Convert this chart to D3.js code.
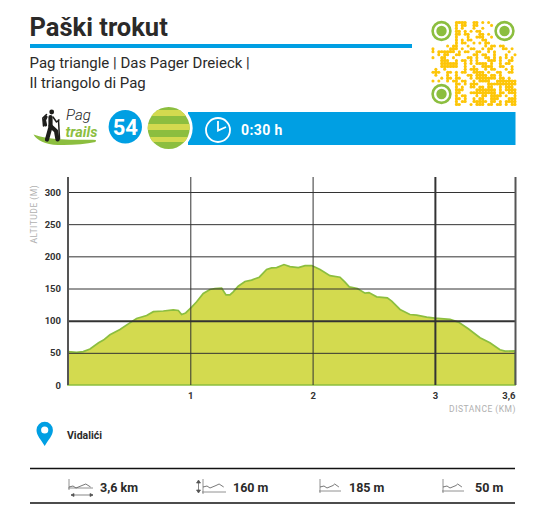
<!DOCTYPE html>
<html><head><meta charset="utf-8">
<script src="https://cdn.jsdelivr.net/npm/d3@7/dist/d3.min.js"></script>
<style>html,body{margin:0;padding:0;background:#fff}svg{display:block}text{font-family:Roboto,sans-serif}</style>
</head><body><svg id="c" width="547" height="529"></svg>
<script>
const distanceKm=[0,.07,.125,.18,.25,.29,.343,.425,.493,.561,.643,.698,.779,.861,.902,.929,.962,1.011,1.052,1.106,1.161,1.202,1.256,1.292,1.324,1.351,1.392,1.447,1.501,1.564,1.624,1.665,1.706,1.766,1.815,1.884,1.938,1.993,2.061,2.142,2.224,2.265,2.3,2.366,2.429,2.461,2.524,2.611,2.647,2.715,2.796,2.851,2.933,3.0,3.123,3.192,3.273,3.369,3.45,3.532,3.573,3.655];
const altitudeM=[52,50.7,52,56,65.6,69.8,78,86.3,95,103.4,108,114,115,116.8,115.8,109.6,112,121,129.3,142.2,148.4,150,150.6,140,140,144.8,153.6,160.9,163,167.6,179.5,182,182.5,187.2,184,182.5,185.6,185.6,179.4,170,167.5,159.8,152.5,150,142.7,143.7,137,135.5,130.3,117.4,109.6,108.6,105.5,104,101.9,97.7,87.4,73.4,65.7,54.8,52.7,53];
const yTicks=[0,50,100,150,200,250,300];
const xTicks=[1,2,3,3.655];
const xTickLabels=["1","2","3","3,6"];
const titleText="Paški trokut";
const subtitleLines=["Pag triangle | Das Pager Dreieck |","Il triangolo di Pag"];
const statLabels=["3,6 km","160 m","185 m","50 m"];
const qrRows=[
"........XXXX..XX.X.X.........",
"........X.XX..XX....X........",
"........X.X...X..X...........",
"........XX.X.X.XX............",
"........XX.XX...XX.X.........",
"........X...X..XXX..X........",
"........X.X.XX...XX..........",
"........X.XX..X.X.XX.........",
".....X.XX...X.....X.XX.XX....",
"X.....XXX.X..XX..X.XX...XX.X.",
"X.XXXXXX.X.XX..XX..X.X....X..",
"..X.XX..XX....XX.XX..X...X..X",
"X..XX..X....XX.X..XX.X.X.X.X.",
"...XXX..X.XX.X.X...XXX.X..XX.",
"...XXXXXX..X.X.XXXX.X..X.XX..",
"...XXXXXX..X..X..XXXX..XX..X.",
".X..X......X.XXX..X.XX...X.X.",
"XXX..XX.X.XX..XXXX.X..XX..XX.",
".X...X..X...XX.XXXX.XX.X.....",
"...X.XX.XX...X.XXXXXXX.XX.X..",
"X.X..X.XX.XX..X.XXXX..XXXXXXX",
"........XX.X.XXX...XXXXXXXXXX",
"........X.X..XX.XX.XX..X.XXX.",
"........XXX....XXXXXXX.X.XXXX",
"........XX...XXXXXXXXX.XX.XXX",
"........X.XX...X.XX.XXXX.X..X",
"........XX.X..X.XX..XXX...XXX",
"........X.XX..XXXXX.XX.X.XXXX",
"........XX...X.XXX.XX.XX.X.XX"];

const BLUE="#009fe3",GREEN="#8cbe3f",LIME="#d3da4f",INK="#2b2a29";
const svg=d3.select("#c");

// header
svg.append("text").attr("x",29.5).attr("y",36).attr("font-size",25.5).attr("font-weight",700).attr("fill",INK).text(titleText);
svg.append("rect").attr("x",30).attr("y",44).attr("width",382).attr("height",4).attr("fill",BLUE);
subtitleLines.forEach((t,i)=>svg.append("text").attr("x",29.5).attr("y",68+i*20).attr("font-size",15).attr("fill",INK).text(t));

// QR
const qr=svg.append("g").attr("transform","translate(431.5,21)"),m=2.93;
qrRows.forEach((row,r)=>[...row].forEach((c,k)=>{
  if(c!=="X")return;
  qr.append("circle").attr("cx",k*m+m/2).attr("cy",r*m+m/2).attr("r",m*.52).attr("fill","#fdc60a");
  if(row[k+1]==="X")qr.append("rect").attr("x",k*m+m/2).attr("y",r*m+m*.14).attr("width",m).attr("height",m*.72).attr("fill","#fdc60a");
  if(qrRows[r+1]&&qrRows[r+1][k]==="X")qr.append("rect").attr("x",k*m+m*.14).attr("y",r*m+m/2).attr("width",m*.72).attr("height",m).attr("fill","#fdc60a");
}));
[[441.5,31],[504.5,31],[441.5,94]].forEach(([cx,cy])=>{
  svg.append("circle").attr("cx",cx).attr("cy",cy).attr("r",8.9).attr("fill","none").attr("stroke",GREEN).attr("stroke-width",2.6);
  svg.append("circle").attr("cx",cx).attr("cy",cy).attr("r",5.2).attr("fill",GREEN);
});

// Pag trails logo
svg.append("path").attr("d","M33.500 134.500C42 137.500 52 139 66 139.500C78 140 88 139.500 96 140L95.500 142C85 144 72 145.500 58 145C45 144.500 37 140.500 33.500 134.500Z").attr("fill",GREEN);
const hk=svg.append("g").attr("fill","none").attr("stroke","#1d1d1b").attr("stroke-linecap","round").attr("stroke-linejoin","round");
svg.append("circle").attr("cx",51.700).attr("cy",112).attr("r",2.400).attr("fill","#1d1d1b");
hk.append("path").attr("d","M50.500 117L50.500 127L47 139.500").attr("stroke-width",4.200);
hk.append("path").attr("d","M50.500 126L56 131L57.500 139.500").attr("stroke-width",4.200);
hk.append("path").attr("d","M46 117L44.500 120L45.500 125").attr("stroke-width",3.200);
hk.append("path").attr("d","M43.500 126L42.800 118L46.500 114.500").attr("stroke-width",1.500);
hk.append("path").attr("d","M53 117L56.500 122L59 120M58.500 120L59.500 139").attr("stroke-width",1.500);
svg.append("text").attr("x",66).attr("y",120).attr("font-size",15).attr("font-style","italic").attr("font-weight",300).attr("fill","#222").text("Pag");
svg.append("text").attr("x",65.500).attr("y",136.500).attr("font-size",14.500).attr("font-style","italic").attr("font-weight",700).attr("fill",GREEN).text("trails");

// route band
svg.append("rect").attr("x",188).attr("y",112).attr("width",327.500).attr("height",33).attr("fill",BLUE);
svg.append("circle").attr("cx",125.300).attr("cy",126.700).attr("r",16.700).attr("fill",BLUE);
svg.append("text").attr("x",125.300).attr("y",134.500).attr("text-anchor","middle").attr("font-size",22).attr("font-weight",700).attr("fill","#fff").text("54");
svg.append("circle").attr("cx",168.700).attr("cy",128).attr("r",24).attr("fill","#fff");
const defs=svg.append("defs");
defs.append("clipPath").attr("id","disc").append("circle").attr("cx",168.700).attr("cy",128).attr("r",21);
const disc=svg.append("g").attr("clip-path","url(#disc)");
disc.append("rect").attr("x",147).attr("y",107).attr("width",44).attr("height",42).attr("fill",GREEN);
[[110,6],[124,6],[137,5]].forEach(([y,h])=>disc.append("rect").attr("x",147).attr("y",y).attr("width",44).attr("height",h).attr("fill",LIME));
svg.append("circle").attr("cx",218).attr("cy",130).attr("r",12).attr("fill","none").attr("stroke","#fff").attr("stroke-width",1.800);
svg.append("path").attr("d","M218 121V130.500L226 127").attr("fill","none").attr("stroke","#fff").attr("stroke-width",1.800);
svg.append("text").attr("x",241).attr("y",134.500).attr("font-size",14).attr("font-weight",700).attr("letter-spacing",.4).attr("fill","#fff").text("0:30 h");

// chart
const x=d3.scaleLinear().domain([0,3.655]).range([68,515]);
const y=d3.scaleLinear().domain([0,300]).range([385,192]);
const pts=distanceKm.map((d,i)=>[d,altitudeM[i]]);
const area=d3.area().x(d=>x(d[0])).y0(y(0)).y1(d=>y(d[1])).curve(d3.curveLinear);
svg.append("path").datum(pts).attr("d",area).attr("fill",LIME).attr("stroke",GREEN).attr("stroke-width",1.700);

const yAxis=svg.append("g").attr("transform","translate(68,0)")
  .call(d3.axisLeft(y).tickValues(yTicks).tickSize(-447).tickPadding(7));
yAxis.select(".domain").remove();
yAxis.selectAll(".tick line").attr("stroke","#333").attr("stroke-width",d=>d===100?2:1).attr("display",d=>d===0?"none":null);
yAxis.selectAll(".tick text").attr("font-size",9.500).attr("font-weight",700).attr("font-family","Roboto").attr("fill","#333");

const xAxis=svg.append("g").attr("transform","translate(0,385)")
  .call(d3.axisBottom(x).tickValues(xTicks).tickFormat((d,i)=>xTickLabels[i]).tickSize(-208).tickPadding(7));
xAxis.select(".domain").remove();
xAxis.selectAll(".tick line").attr("stroke",d=>d===3.655?"#555":"#333").attr("stroke-width",d=>d===3||d===3.655?2:1);
xAxis.selectAll(".tick text").attr("font-size",9.500).attr("font-weight",700).attr("font-family","Roboto").attr("fill","#333")
  .attr("text-anchor",d=>d===3.655?"end":"middle");
svg.append("line").attr("x1",68).attr("x2",68).attr("y1",177).attr("y2",385).attr("stroke","#555").attr("stroke-width",2);

svg.append("text").attr("transform","translate(36.500,243.500) rotate(-90)").attr("font-size",8.500).attr("letter-spacing",.5).attr("fill","#b0b0b0").text("ALTITUDE (M)");
svg.append("text").attr("x",516).attr("y",412).attr("text-anchor","end").attr("font-size",8.500).attr("letter-spacing",.5).attr("fill","#b0b0b0").text("DISTANCE (KM)");

// location
svg.append("path").attr("d","M44.700 446C41 439.500 36.500 435.500 36.500 430A8.200 8.200 0 0 1 52.900 430C52.900 435.500 48.400 439.500 44.700 446Z").attr("fill",BLUE);
svg.append("circle").attr("cx",44.700).attr("cy",430).attr("r",3.600).attr("fill","#fff");
svg.append("text").attr("x",67).attr("y",439).attr("font-size",10.500).attr("font-weight",700).attr("fill",INK).text("Vidalići");

// stats
[468.500,503].forEach(v=>svg.append("line").attr("x1",30).attr("x2",515).attr("y1",v).attr("y2",v).attr("stroke","#111").attr("stroke-width",1.300));
[100,233,349,475].forEach((px,i)=>svg.append("text").attr("x",px).attr("y",491.500).attr("font-size",12.500).attr("font-weight",700).attr("fill",INK).text(statLabels[i]));
function prof(ox,w,base){
  const g=svg.append("g").attr("fill","none").attr("stroke","#777").attr("stroke-width",.8);
  g.append("path").attr("d",`M${ox} 479V${base+2}M${ox-1} ${base}H${ox+w}`);
  g.append("path").attr("d",`M${ox} 487L${ox+4} 486L${ox+7} 488L${ox+13} 485.500L${ox+w*.7} 484L${ox+w*.9} 487`).attr("stroke","#555");
}
prof(69,24,488);
svg.append("path").attr("d","M71 495H93M71 495l3-1.500v3zM93 495l-3-1.500v3z").attr("fill","#555").attr("stroke","#555").attr("stroke-width",.7);
prof(203,23,492);
svg.append("path").attr("d","M198.500 481V492M198.500 480l-2 3h4zM198.500 493l-2-3h4z").attr("fill","#555").attr("stroke","#555").attr("stroke-width",.7);
prof(320,21,491);
prof(443,21,491);
</script></body></html>
